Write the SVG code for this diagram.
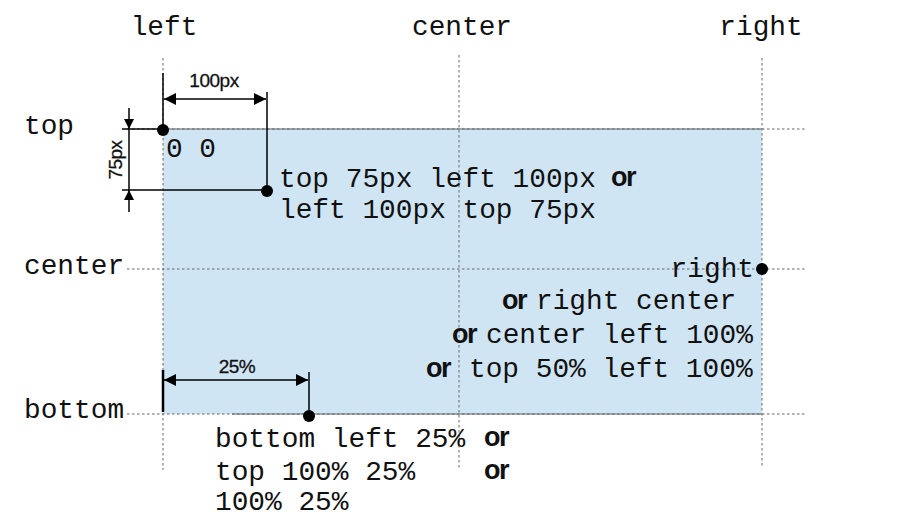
<svg xmlns="http://www.w3.org/2000/svg" width="914" height="531" viewBox="0 0 914 531">
<style>
.mono{font-family:"Liberation Mono","Courier New",monospace;font-size:27.8px;fill:#111}
.or{font-family:"Liberation Sans",Arial,sans-serif;font-size:27px;font-weight:bold;letter-spacing:-1.5px;fill:#111}
.dim{font-family:"Liberation Sans",Arial,sans-serif;font-size:19px;fill:#111;stroke:#111;stroke-width:0.3px;letter-spacing:-0.5px}
.guide{stroke:#666;stroke-width:1;stroke-dasharray:2.5,2.5;fill:none}
.solid{stroke:#000;stroke-width:1.5;fill:none}
.edge{stroke:#8a9098;stroke-width:1.5;fill:none}
.dot{fill:#000}
</style>
<defs>
<marker id="ah" viewBox="0 0 10 10" refX="10" refY="5" markerWidth="14" markerHeight="10" markerUnits="userSpaceOnUse" orient="auto-start-reverse">
<path d="M0,0 L10,5 L0,10 z" fill="#000"/>
</marker>
<marker id="ahL" viewBox="0 0 10 10" refX="10" refY="5" markerWidth="16" markerHeight="12" markerUnits="userSpaceOnUse" orient="auto-start-reverse">
<path d="M0,0 L10,5 L0,10 z" fill="#000"/>
</marker>
</defs>
<rect width="914" height="531" fill="#fff"/>
<g id="box">
<rect x="163" y="129" width="599" height="285" fill="#d0e5f4"/>
<line class="edge" x1="163" y1="129" x2="762" y2="129"/>
<line class="edge" x1="232" y1="414" x2="762" y2="414"/>
</g>
<g id="connectors">
<line class="guide" x1="163" y1="58" x2="163" y2="470"/>
<line class="guide" x1="459" y1="55" x2="459" y2="468"/>
<line class="guide" x1="762" y1="58" x2="762" y2="468"/>
<line class="guide" x1="127" y1="129" x2="806" y2="129"/>
<line class="guide" x1="127" y1="269" x2="806" y2="269"/>
<line class="guide" x1="127" y1="414" x2="806" y2="414"/>
<line class="solid" x1="163" y1="73" x2="163" y2="129"/>
<line class="solid" x1="267" y1="92" x2="267" y2="190"/>
<line class="solid" x1="164" y1="99" x2="266" y2="99" marker-start="url(#ahL)" marker-end="url(#ahL)"/>
<line class="solid" x1="122" y1="129" x2="163" y2="129"/>
<line class="solid" x1="122" y1="190" x2="267" y2="190"/>
<line class="solid" x1="129" y1="108" x2="129" y2="129" marker-end="url(#ah)"/>
<line class="solid" x1="129" y1="212" x2="129" y2="190" marker-end="url(#ah)"/>
<line class="solid" x1="129" y1="129" x2="129" y2="190"/>
<line stroke="#000" stroke-width="2.5" x1="163" y1="370" x2="163" y2="412"/>
<line class="solid" x1="309" y1="372" x2="309" y2="415"/>
<line class="solid" x1="164" y1="380" x2="308" y2="380" marker-start="url(#ahL)" marker-end="url(#ahL)"/>
</g>
<g id="axis-labels">
<text class="mono" x="164" y="35" text-anchor="middle">left</text>
<text class="mono" x="462" y="35" text-anchor="middle">center</text>
<text class="mono" x="761" y="35" text-anchor="middle">right</text>
<text class="mono" x="24" y="134">top</text>
<text class="mono" x="24" y="274">center</text>
<text class="mono" x="24" y="418">bottom</text>
</g>
<g id="dim-labels">
<text class="dim" x="214" y="87" text-anchor="middle">100px</text>
<text class="dim" transform="translate(122,160) rotate(-90)" text-anchor="middle">75px</text>
<text class="dim" x="237" y="373" text-anchor="middle">25%</text>
</g>
<g id="point-origin">
<circle class="dot" cx="163" cy="130" r="6"/>
<text class="mono" x="166" y="157">0 0</text>
</g>
<g id="point-topleft">
<circle class="dot" cx="267" cy="191" r="6"/>
<text class="mono" x="279" y="187">top 75px left 100px</text>
<text class="or" x="611" y="186">or</text>
<text class="mono" x="279" y="218">left 100px top 75px</text>
</g>
<g id="point-right">
<circle class="dot" cx="762" cy="269" r="6"/>
<text class="mono" x="754" y="277" text-anchor="end">right</text>
<text class="or" x="502" y="309">or</text>
<text class="mono" x="536" y="309">right center</text>
<text class="or" x="452" y="343">or</text>
<text class="mono" x="486" y="343">center left 100%</text>
<text class="or" x="426" y="377">or</text>
<text class="mono" x="469" y="377">top 50% left 100%</text>
</g>
<g id="point-bottom">
<circle class="dot" cx="309" cy="416" r="6"/>
<text class="mono" x="215" y="447">bottom left 25%</text>
<text class="or" x="484" y="446">or</text>
<text class="mono" x="215" y="480">top 100% 25%</text>
<text class="or" x="484" y="479">or</text>
<text class="mono" x="215" y="510">100% 25%</text>
</g>
</svg>
